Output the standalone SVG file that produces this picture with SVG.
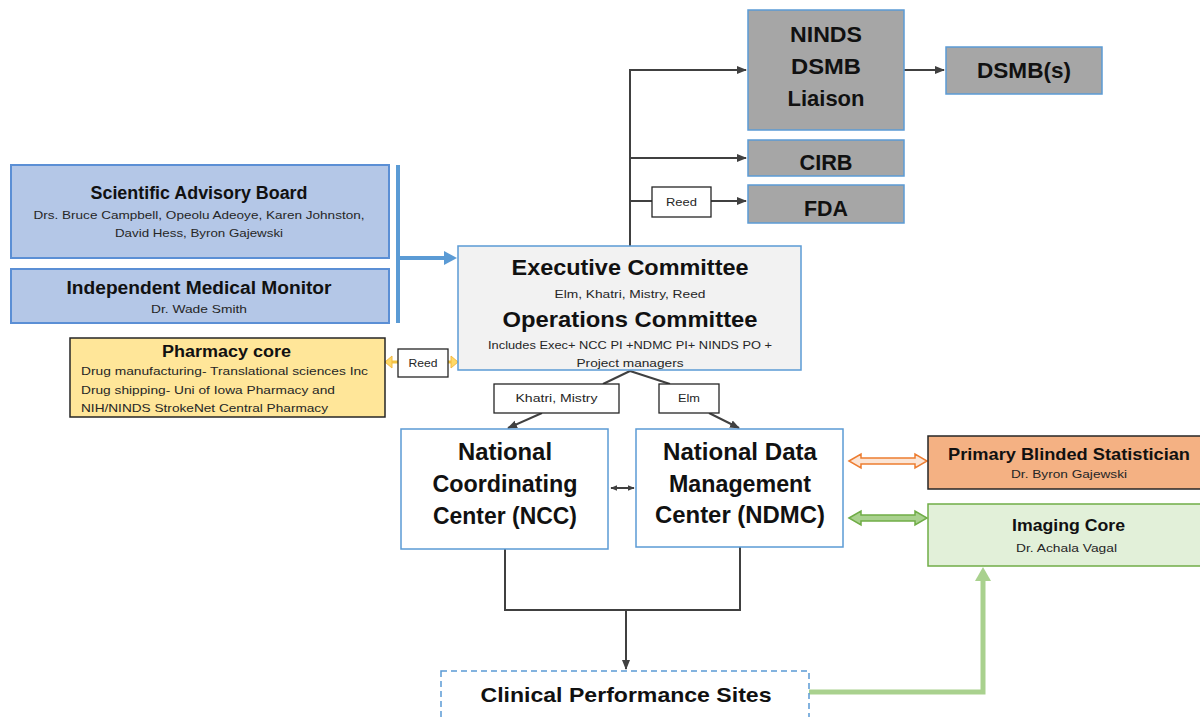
<svg xmlns="http://www.w3.org/2000/svg" width="1200" height="717" viewBox="0 0 1200 717">
  <defs>
    <marker id="arr" markerUnits="userSpaceOnUse" markerWidth="10" markerHeight="10" viewBox="0 0 10 10" refX="9" refY="5" orient="auto-start-reverse">
      <path d="M0,1 L10,5 L0,9 Z" fill="#404040"/>
    </marker>
    <marker id="arrSm" markerUnits="userSpaceOnUse" markerWidth="7" markerHeight="7" viewBox="0 0 10 10" refX="9" refY="5" orient="auto-start-reverse">
      <path d="M0,1 L10,5 L0,9 Z" fill="#404040"/>
    </marker>
    <style>
      text { font-family: "Liberation Sans", Arial, sans-serif; text-anchor: middle; fill: #111; }
      .b { font-weight: bold; }
      .sub { font-size: 11.5px; fill: #262626; }
      .lbl { font-size: 11.5px; fill: #262626; }
      .conn { fill: none; stroke: #404040; stroke-width: 2; }
      .blue { fill: #b4c7e7; stroke: #5b8fd5; stroke-width: 2; }
      .gray { fill: #a6a6a6; stroke: #5b9bd5; stroke-width: 1.5; }
      .white { fill: #ffffff; stroke: #5b9bd5; stroke-width: 1.5; }
      .tag { fill: #ffffff; stroke: #262626; stroke-width: 1.3; }
    </style>
  </defs>

  <!-- connectors -->
  <g id="connectors">
    <!-- oversight branches from the executive committee -->
    <path class="conn" d="M630,246 V70 H746" marker-end="url(#arr)"/>
    <path class="conn" d="M630,158 H746" marker-end="url(#arr)"/>
    <path class="conn" d="M630,201 H652"/>
    <path class="conn" d="M711,201 H746" marker-end="url(#arr)"/>
    <path class="conn" d="M904,70 H944" marker-end="url(#arr)"/>

    <!-- advisory bar into the executive committee -->
    <line x1="398" y1="165" x2="398" y2="323" stroke="#5b9bd5" stroke-width="4"/>
    <line x1="398" y1="258" x2="446" y2="258" stroke="#5b9bd5" stroke-width="4"/>
    <path d="M444,251 L457,258 L444,265 Z" fill="#5b9bd5"/>

    <!-- pharmacy link -->
    <line x1="389" y1="362" x2="455" y2="362" stroke="#f4c542" stroke-width="3"/>
    <path d="M385,362 L392,356 L392,368 Z" fill="#ffd966" stroke="#f4b942" stroke-width="1"/>
    <path d="M458,362 L451,356 L451,368 Z" fill="#ffd966" stroke="#f4b942" stroke-width="1"/>

    <!-- executive committee down to the centres -->
    <path class="conn" d="M630,371 L603,384"/>
    <path class="conn" d="M630,371 L670,384"/>
    <path class="conn" d="M542,413 L508,428" marker-end="url(#arr)"/>
    <path class="conn" d="M709,413 L739,428" marker-end="url(#arr)"/>

    <!-- NCC <-> NDMC -->
    <path class="conn" d="M611,488 H634" marker-start="url(#arrSm)" marker-end="url(#arrSm)"/>

    <!-- centres down to clinical sites -->
    <path class="conn" d="M505,549 V610 H740 V547"/>
    <path class="conn" d="M626,610 V669" marker-end="url(#arr)"/>

    <!-- NDMC <-> statistician (hollow block arrow) -->
    <path d="M849,461 L861,454 L861,458 L915,458 L915,454 L927,461 L915,468 L915,464 L861,464 L861,468 Z" fill="#fbe5d6" stroke="#ed7d31" stroke-width="1.5"/>

    <!-- NDMC <-> imaging core (solid block arrow) -->
    <path d="M849,518 L861,511 L861,515 L915,515 L915,511 L927,518 L915,525 L915,521 L861,521 L861,525 Z" fill="#a9d18e" stroke="#70ad47" stroke-width="1.5"/>

    <!-- clinical sites up to imaging core -->
    <path d="M809,692 H983 V578" fill="none" stroke="#a9d18e" stroke-width="5"/>
    <path d="M975,581 L983,567 L991,581 Z" fill="#a9d18e"/>
  </g>

  <!-- connector tags -->
  <g id="tag-reed-fda">
    <rect class="tag" x="652" y="187" width="59" height="30"/>
    <text class="lbl" x="681.5" y="206" textLength="31" lengthAdjust="spacingAndGlyphs">Reed</text>
  </g>
  <g id="tag-reed-pharmacy">
    <rect class="tag" x="398" y="349" width="50" height="28"/>
    <text class="lbl" x="423" y="367" textLength="29" lengthAdjust="spacingAndGlyphs">Reed</text>
  </g>
  <g id="tag-khatri-mistry">
    <rect class="tag" x="494" y="384" width="125" height="29"/>
    <text class="lbl" x="556.5" y="402" textLength="82" lengthAdjust="spacingAndGlyphs">Khatri, Mistry</text>
  </g>
  <g id="tag-elm">
    <rect class="tag" x="659" y="384" width="60" height="29"/>
    <text class="lbl" x="689" y="402" textLength="22" lengthAdjust="spacingAndGlyphs">Elm</text>
  </g>

  <!-- nodes -->
  <g id="ninds-dsmb-liaison">
    <rect class="gray" x="748" y="10" width="156" height="120"/>
    <text class="b" font-size="22" x="826" y="42" textLength="72" lengthAdjust="spacingAndGlyphs">NINDS</text>
    <text class="b" font-size="22" x="826" y="74" textLength="70" lengthAdjust="spacingAndGlyphs">DSMB</text>
    <text class="b" font-size="22" x="826" y="106" textLength="77" lengthAdjust="spacingAndGlyphs">Liaison</text>
  </g>
  <g id="dsmbs">
    <rect class="gray" x="946" y="47" width="156" height="47"/>
    <text class="b" font-size="22" x="1024" y="78" textLength="94" lengthAdjust="spacingAndGlyphs">DSMB(s)</text>
  </g>
  <g id="cirb">
    <rect class="gray" x="748" y="140" width="156" height="36"/>
    <text class="b" font-size="22" x="826" y="170" textLength="53" lengthAdjust="spacingAndGlyphs">CIRB</text>
  </g>
  <g id="fda">
    <rect class="gray" x="748" y="185" width="156" height="38"/>
    <text class="b" font-size="22" x="826" y="216" textLength="44" lengthAdjust="spacingAndGlyphs">FDA</text>
  </g>

  <g id="scientific-advisory-board">
    <rect class="blue" x="11" y="165" width="378" height="93"/>
    <text class="b" font-size="18" x="199" y="199" textLength="217" lengthAdjust="spacingAndGlyphs">Scientific Advisory Board</text>
    <text class="sub" x="199" y="219" textLength="331" lengthAdjust="spacingAndGlyphs">Drs. Bruce Campbell, Opeolu Adeoye, Karen Johnston,</text>
    <text class="sub" x="199" y="237" textLength="168" lengthAdjust="spacingAndGlyphs">David Hess, Byron Gajewski</text>
  </g>
  <g id="independent-medical-monitor">
    <rect class="blue" x="11" y="269" width="378" height="54"/>
    <text class="b" font-size="18" x="199" y="294" textLength="265" lengthAdjust="spacingAndGlyphs">Independent Medical Monitor</text>
    <text class="sub" x="199" y="313" textLength="96" lengthAdjust="spacingAndGlyphs">Dr. Wade Smith</text>
  </g>
  <g id="pharmacy-core">
    <rect x="70" y="338" width="315" height="79" fill="#ffe699" stroke="#262626" stroke-width="1.5"/>
    <text class="b" font-size="16" x="226.5" y="357" textLength="129" lengthAdjust="spacingAndGlyphs">Pharmacy core</text>
    <text class="sub" x="81" y="375" style="text-anchor:start" textLength="287" lengthAdjust="spacingAndGlyphs">Drug manufacturing- Translational sciences Inc</text>
    <text class="sub" x="81" y="394" style="text-anchor:start" textLength="254" lengthAdjust="spacingAndGlyphs">Drug shipping- Uni of Iowa Pharmacy and</text>
    <text class="sub" x="81" y="412" style="text-anchor:start" textLength="247" lengthAdjust="spacingAndGlyphs">NIH/NINDS StrokeNet Central Pharmacy</text>
  </g>

  <g id="executive-committee">
    <rect x="458" y="246" width="343" height="124" fill="#f2f2f2" stroke="#5b9bd5" stroke-width="1.5"/>
    <text class="b" font-size="22" x="630" y="275" textLength="237" lengthAdjust="spacingAndGlyphs">Executive Committee</text>
    <text class="sub" x="630" y="298" textLength="151" lengthAdjust="spacingAndGlyphs">Elm, Khatri, Mistry, Reed</text>
    <text class="b" font-size="22" x="630" y="327" textLength="255" lengthAdjust="spacingAndGlyphs">Operations Committee</text>
    <text class="sub" x="630" y="349" textLength="284" lengthAdjust="spacingAndGlyphs">Includes Exec+ NCC PI +NDMC PI+ NINDS PO +</text>
    <text class="sub" x="630" y="367" textLength="107" lengthAdjust="spacingAndGlyphs">Project managers</text>
  </g>

  <g id="ncc">
    <rect class="white" x="401" y="429" width="207" height="120"/>
    <text class="b" font-size="23" x="505" y="460" textLength="94" lengthAdjust="spacingAndGlyphs">National</text>
    <text class="b" font-size="23" x="505" y="492" textLength="145" lengthAdjust="spacingAndGlyphs">Coordinating</text>
    <text class="b" font-size="23" x="505" y="524" textLength="144" lengthAdjust="spacingAndGlyphs">Center (NCC)</text>
  </g>
  <g id="ndmc">
    <rect class="white" x="636" y="429" width="207" height="118"/>
    <text class="b" font-size="23" x="740" y="460" textLength="154" lengthAdjust="spacingAndGlyphs">National Data</text>
    <text class="b" font-size="23" x="740" y="492" textLength="142" lengthAdjust="spacingAndGlyphs">Management</text>
    <text class="b" font-size="23" x="740" y="523" textLength="170" lengthAdjust="spacingAndGlyphs">Center (NDMC)</text>
  </g>

  <g id="primary-blinded-statistician">
    <rect x="928" y="436" width="280" height="53" fill="#f4b183" stroke="#262626" stroke-width="1.5"/>
    <text class="b" font-size="17" x="1069" y="460" textLength="242" lengthAdjust="spacingAndGlyphs">Primary Blinded Statistician</text>
    <text class="sub" x="1069" y="478" textLength="116" lengthAdjust="spacingAndGlyphs">Dr. Byron Gajewski</text>
  </g>
  <g id="imaging-core">
    <rect x="928" y="504" width="280" height="62" fill="#e2f0d9" stroke="#70ad47" stroke-width="1.5"/>
    <text class="b" font-size="17" x="1068.5" y="531" textLength="113" lengthAdjust="spacingAndGlyphs">Imaging Core</text>
    <text class="sub" x="1066.5" y="552" textLength="101" lengthAdjust="spacingAndGlyphs">Dr. Achala Vagal</text>
  </g>

  <g id="clinical-performance-sites">
    <rect x="441" y="671" width="368" height="60" fill="#ffffff" stroke="#5b9bd5" stroke-width="1.5" stroke-dasharray="6,4"/>
    <text class="b" font-size="21" x="626" y="702" textLength="291" lengthAdjust="spacingAndGlyphs">Clinical Performance Sites</text>
  </g>
</svg>
